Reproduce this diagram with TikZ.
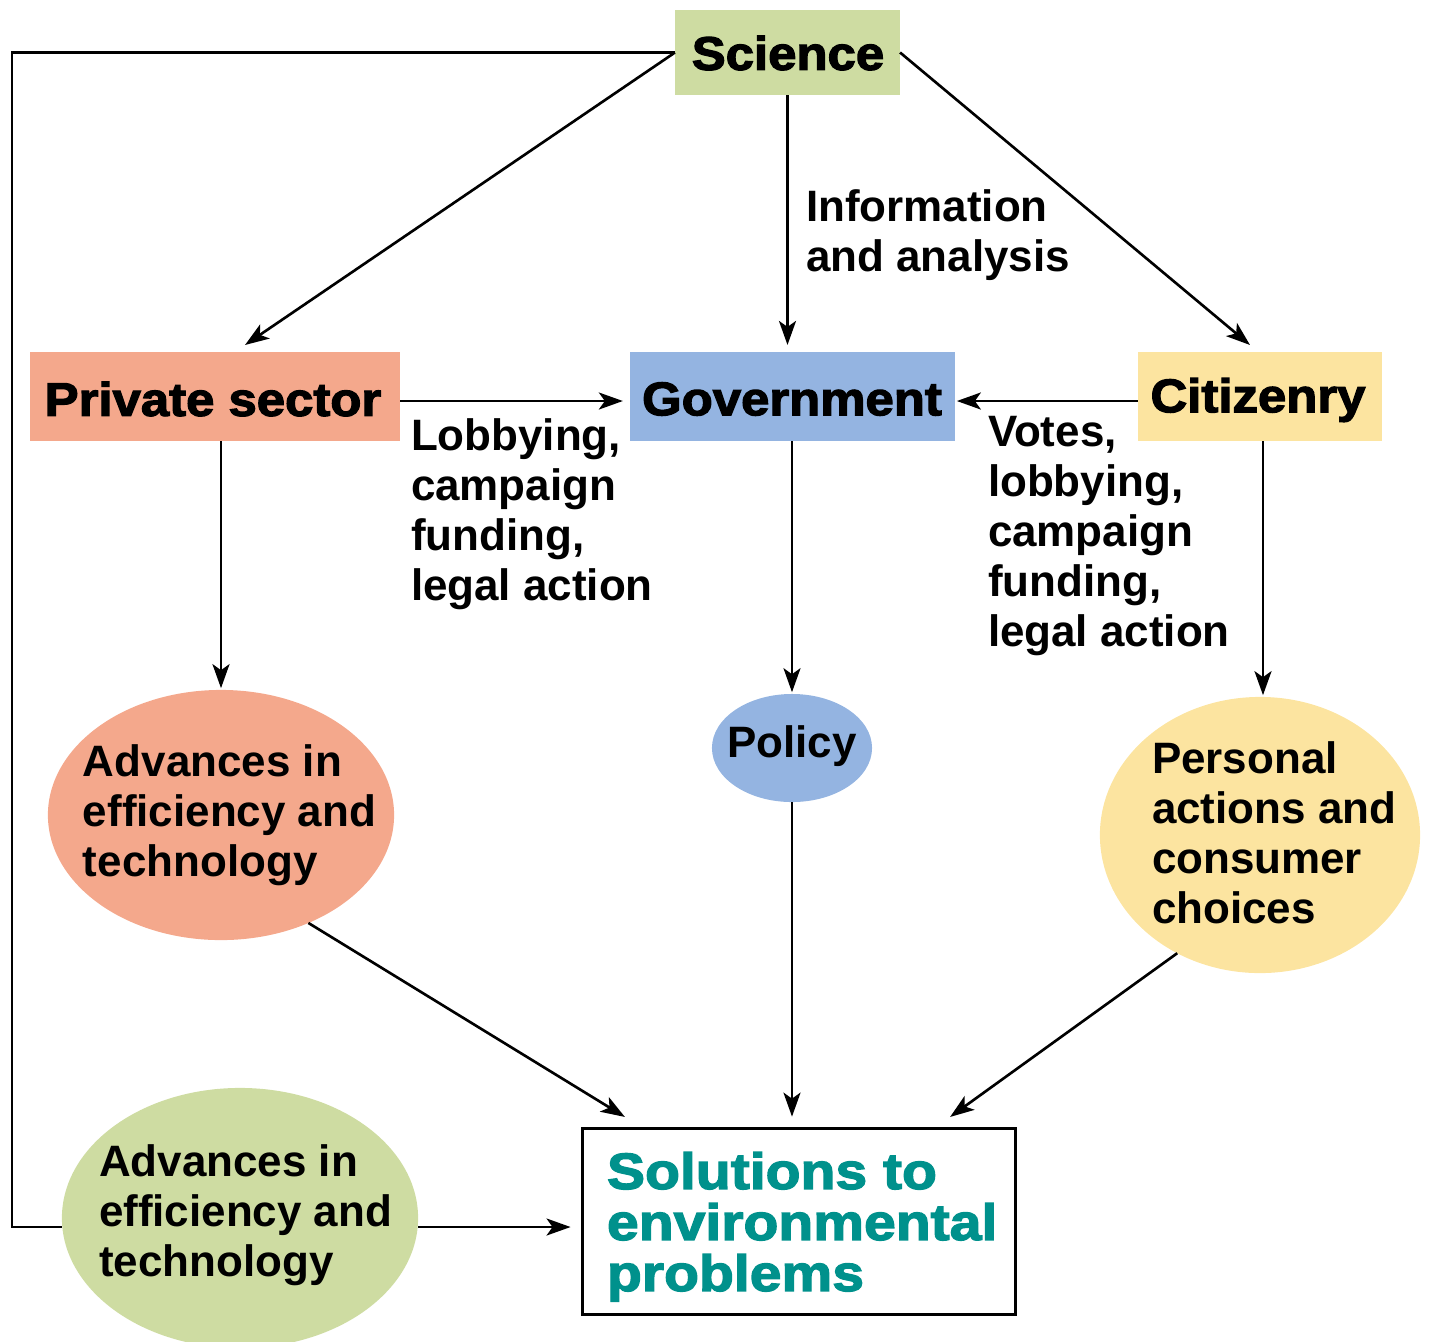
\documentclass[tikz,border=0pt]{standalone}
\usepackage{fontspec}
\usetikzlibrary{arrows.meta,shapes.geometric}
\setmainfont{Liberation Sans}
\newfontfamily\heavyfont[FakeBold=2.6,FakeStretch=1.08]{Liberation Sans Bold}
\newfontfamily\tealfont[FakeBold=2.6,FakeStretch=1.12]{Liberation Sans Bold}

\definecolor{sciencegreen}{RGB}{206,220,162}
\definecolor{salmon}{RGB}{244,168,140}
\definecolor{govblue}{RGB}{148,180,225}
\definecolor{citizenyellow}{RGB}{252,228,160}
\definecolor{tealtext}{RGB}{0,145,140}

\begin{document}
\begin{tikzpicture}[x=0.01cm,y=-0.01cm,
  every node/.style={inner sep=0pt,outer sep=0pt},
  box/.style={rectangle,draw=none},
  blob/.style={ellipse,draw=none},
  title/.style={font=\heavyfont\fontsize{13.4}{15}\selectfont},
  label/.style={font=\bfseries\fontsize{12.5}{14.23}\selectfont,align=left,anchor=north west},
  arr/.style={line width=0.75pt,-{Stealth[length=0.24cm,width=0.17cm,inset=0.06cm]}},
  link/.style={line width=0.75pt}]

\useasboundingbox (0,0) rectangle (1429,1341);

% boxes
\node[box,fill=sciencegreen,minimum width=2.25cm,minimum height=0.85cm] (sci) at (787.5,52.5) {};
\node[title] (scit) at (788,53) {Science};
\node[box,fill=salmon,minimum width=3.70cm,minimum height=0.89cm] (priv) at (215,396.5) {};
\node[title] (privt) at (213,399) {Private sector};
\node[box,fill=govblue,minimum width=3.25cm,minimum height=0.89cm] (gov) at (792.5,396.5) {};
\node[title] (govt) at (792,399) {Government};
\node[box,fill=citizenyellow,minimum width=2.44cm,minimum height=0.89cm] (cit) at (1260,396.5) {};
\node[title] (citt) at (1258,400) {Citizenry};

% ellipses
\node[blob,fill=salmon,minimum width=3.46cm,minimum height=2.50cm] (adv) at (221,815) {};
\node[blob,fill=govblue,minimum width=1.60cm,minimum height=1.08cm] (pol) at (792,748) {};
\node[blob,fill=citizenyellow,minimum width=3.20cm,minimum height=2.76cm] (pers) at (1260,835) {};
\node[blob,fill=sciencegreen,minimum width=3.56cm,minimum height=2.60cm] (grn) at (240,1218) {};

% solutions box
\node[box,draw=black,line width=0.85pt,fill=white,minimum width=4.32cm,minimum height=1.85cm] (sol) at (799,1221.5) {};

% texts
\node[label] (infot) at (806,190) {Information\\and analysis};
\node[label] (lobt) at (411,419) {Lobbying,\\campaign\\funding,\\legal action};
\node[label] (votet) at (988,416) {Votes,\\lobbying,\\campaign\\funding,\\legal action};
\node[label] (advt) at (83,745) {Advances in\\efficiency and\\technology};
\node[font=\bfseries\fontsize{12.5}{14.23}\selectfont] (polt) at (792,746) {Policy};
\node[label] (perst) at (1152,742) {Personal\\actions and\\consumer\\choices};
\node[label] (grnt) at (99,1145) {Advances in\\efficiency and\\technology};
\node[font=\tealfont\fontsize{14.5}{14.5}\selectfont,align=left,anchor=north west,text=tealtext] (solt) at (607,1152) {Solutions to\\environmental\\problems};

% connectors from Science
\coordinate (loop) at (12,52.5);
\coordinate (grnin) at ([yshift=-0.09cm]grn.west);
\draw[link] (sci.west) -- (loop) |- (grnin);
\draw[arr] (sci.west) -- ([xshift=0.30cm,yshift=0.07cm]priv.north);
\draw[arr,shorten >=2pt] (sci.south) -- (sci.south |- gov.north);
\draw[arr] (sci.east) -- ([xshift=-0.10cm,yshift=0.07cm]cit.north);

% into Government
\draw[arr,shorten >=2pt] ([yshift=-0.045cm]priv.east) -- ([yshift=-0.045cm]gov.west);
\draw[arr,shorten >=0.5pt] ([yshift=-0.045cm]cit.west) -- ([yshift=-0.045cm]gov.east);

% downward arrows
\draw[arr,shorten >=0.5pt] (adv.north |- priv.south) -- (adv.north);
\draw[arr,shorten >=0.5pt] (pol.north |- gov.south) -- (pol.north);
\draw[arr,shorten >=0.5pt] ([xshift=0.03cm]pers.north |- cit.south) -- ([xshift=0.03cm]pers.north);

% into Solutions
\draw[arr] (adv.-51) -- ([xshift=0.42cm,yshift=0.12cm]sol.north west);
\draw[arr,shorten >=3.5pt] (pol.south) -- (pol.south |- sol.north);
\draw[arr] (pers.-125) -- ([xshift=-0.65cm,yshift=0.12cm]sol.north east);
\coordinate (grnout) at ([yshift=-0.09cm]grn.east);
\draw[arr,shorten >=3.5pt] (grnout) -- (grnout -| sol.west);
\end{tikzpicture}
\end{document}
